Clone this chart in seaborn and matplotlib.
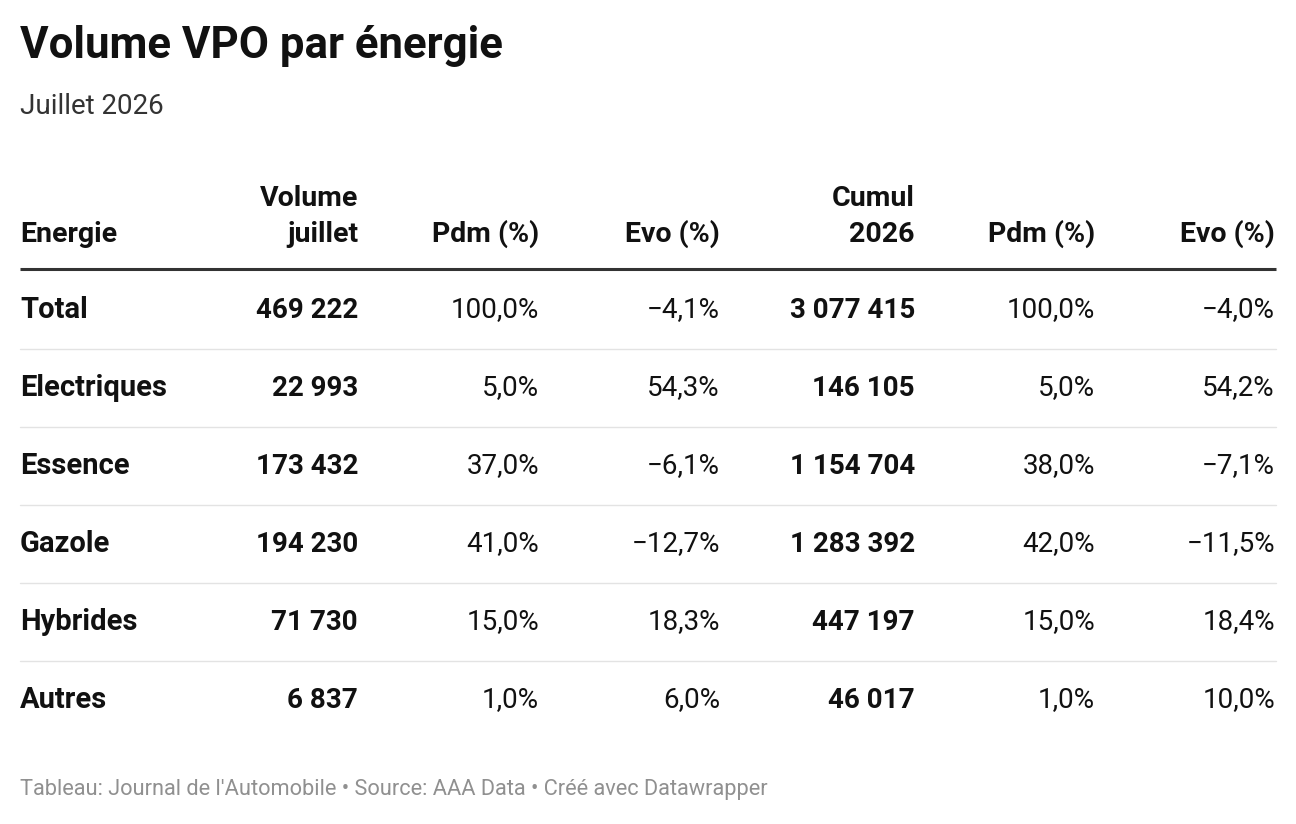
import matplotlib
matplotlib.use("Agg")
import matplotlib.pyplot as plt
import seaborn as sns

sns.set_theme(style="white")
plt.rcParams['font.family'] = ['Roboto', 'DejaVu Sans']

# ── Data ─────────────────────────────
energies = ["Total", "Electriques", "Essence", "Gazole", "Hybrides", "Autres"]
volume_juillet = ["469 222", "22 993", "173 432", "194 230", "71 730", "6 837"]
pdm_juillet = ["100,0%", "5,0%", "37,0%", "41,0%", "15,0%", "1,0%"]
evo_juillet = ["−4,1%", "54,3%", "−6,1%", "−12,7%", "18,3%", "6,0%"]
cumul_2026 = ["3 077 415", "146 105", "1 154 704", "1 283 392", "447 197", "46 017"]
pdm_cumul = ["100,0%", "5,0%", "38,0%", "42,0%", "15,0%", "1,0%"]
evo_cumul = ["−4,0%", "54,2%", "−7,1%", "−11,5%", "18,4%", "10,0%"]
headers = ["Volume\njuillet", "Pdm (%)", "Evo (%)", "Cumul\n2026", "Pdm (%)", "Evo (%)"]

columns = [volume_juillet, pdm_juillet, evo_juillet, cumul_2026, pdm_cumul, evo_cumul]
bold_cols = [True, False, False, True, False, False]
col_right = [358, 539, 720, 915, 1095, 1275]

# ── Figure in pixel coordinates ─────────
fig = plt.figure(figsize=(12.96, 8.24), dpi=100)
ax = fig.add_axes([0, 0, 1, 1])
ax.set_xlim(0, 1296)
ax.set_ylim(824, 0)
ax.axis('off')

ink = "#111111"
ax.text(20, 46, "Volume VPO par énergie", fontsize=31.5, fontweight='bold',
        color=ink, va='center', ha='left')
ax.text(20, 106, "Juillet 2026", fontsize=20, color="#333333", va='center', ha='left')

# header
hs = 20.5
ax.text(20, 234, "Energie", fontsize=hs, fontweight='bold', color=ink, va='center')
for h, x in zip(headers, col_right):
    lines = h.split("\n")
    if len(lines) == 2:
        ax.text(x, 198, lines[0], fontsize=hs, fontweight='bold', color=ink, va='center', ha='right')
        ax.text(x, 234, lines[1], fontsize=hs, fontweight='bold', color=ink, va='center', ha='right')
    else:
        ax.text(x, 234, h, fontsize=hs, fontweight='bold', color=ink, va='center', ha='right')
ax.plot([20, 1276], [269, 269], color="#333333", lw=2.2, solid_capstyle='butt')

# rows
row_y = [310 + 78 * i for i in range(len(energies))]
for i, (name, y) in enumerate(zip(energies, row_y)):
    ax.text(20, y, name, fontsize=21, fontweight='bold', color=ink, va='center')
    for col, b, x in zip(columns, bold_cols, col_right):
        ax.text(x, y, col[i], fontsize=20, fontweight='bold' if b else 'normal',
                color=ink, va='center', ha='right')
    if i < len(energies) - 1:
        ax.plot([20, 1276], [y + 39, y + 39], color="#e3e3e3", lw=1)

ax.text(20, 790, "Tableau: Journal de l'Automobile • Source: AAA Data • Créé avec Datawrapper",
        fontsize=15.7, color="#909090", va='center')

fig.savefig("out.png", dpi=100, facecolor="white")
